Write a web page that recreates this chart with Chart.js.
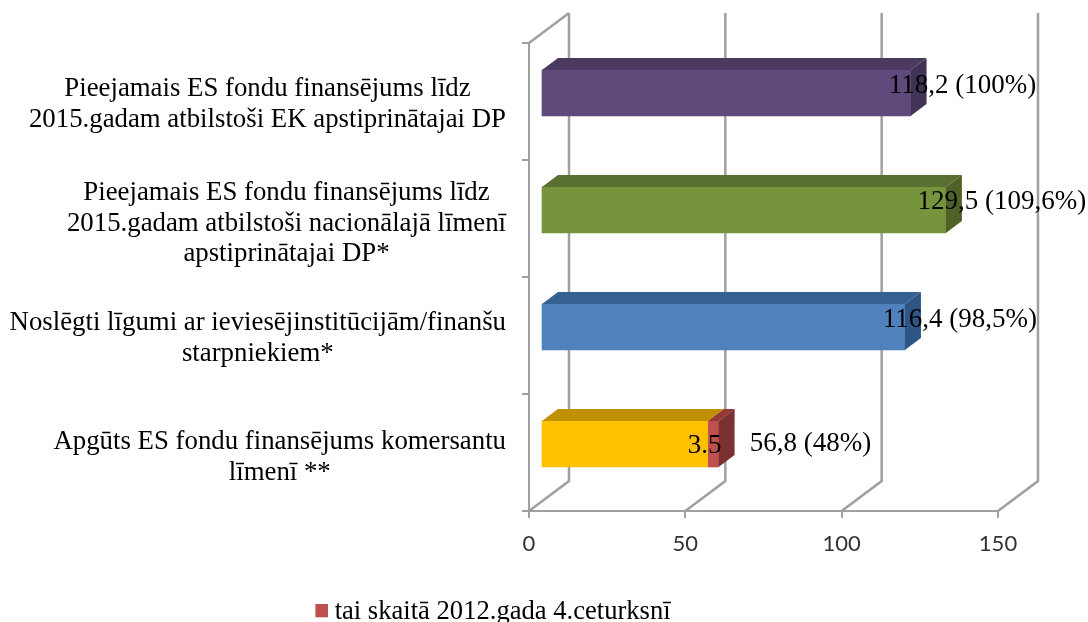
<!DOCTYPE html>
<html lang="lv">
<head>
<meta charset="utf-8">
<title>ES fondu finansējums</title>
<script src="https://cdn.jsdelivr.net/npm/chart.js@4"></script>
<style>
    html, body { margin: 0; padding: 0; background: #fff; overflow: hidden; }
    canvas { display: block; }
</style>
</head>
<body>
<canvas id="chart" width="1088" height="622"></canvas>
<script>
// Chart data, top bar first
const categories = [
    ['Pieejamais ES fondu finansējums līdz', '2015.gadam atbilstoši EK apstiprinātajai DP'],
    ['Pieejamais ES fondu finansējums līdz', '2015.gadam atbilstoši nacionālajā līmenī', 'apstiprinātajai DP*'],
    ['Noslēgti līgumi ar ieviesējinstitūcijām/finanšu', 'starpniekiem*'],
    ['Apgūts ES fondu finansējums komersantu', 'līmenī **']
];
const mainValues = [118.2, 129.5, 116.4, 53.3];
const quarterValues = [null, null, null, 3.5];
const mainLabels = ['118,2 (100%)', '129,5 (109,6%)', '116,4 (98,5%)', '56,8 (48%)'];
const quarterLabels = [null, null, null, '3.5'];
const legendLabel = 'tai skaitā 2012.gada 4.ceturksnī';
const xTicks = [0, 50, 100, 150];

// Face colours per bar
const frontColors = ['#604a7b', '#77933c', '#4f81bd', '#ffc000'];
const topColors = ['#4b3a60', '#5a7030', '#376092', '#bf9000'];
const sideColors = ['#413355', '#4f6228', '#2f5585', '#bf9000'];
const quarterColor = '#c0504d';

const gridColor = '#a0a0a0';
const serif = '"Liberation Serif"';

// Legend swatch: the gap to the text is tighter than Chart.js gives, so the
// square hangs left of a narrow legend box
function legendSwatch() {
    const c = document.createElement('canvas');
    c.width = 20;
    c.height = 16;
    const g = c.getContext('2d');
    g.fillStyle = quarterColor;
    g.fillRect(7, 0, 13, 13);
    return c;
}

// Excel style 3D walls, bar depth, category labels and value labels
const bar3d = {
    id: 'bar3d',
    afterLayout(chart, args, opts) {
        // legend sits left of the page centre
        const legend = chart.legend;
        const shift = opts.legendCentre - (legend.left + legend.right) / 2;
        legend.left += shift;
        legend.right += shift;
        legend.top = opts.legendTop;
    },
    beforeDatasetsDraw(chart, args, opts) {
        const { ctx, chartArea, scales } = chart;
        const wall = opts.wall;
        ctx.save();
        ctx.strokeStyle = gridColor;
        ctx.lineWidth = 2.5;
        ctx.beginPath();
        xTicks.forEach(v => {
            const x = scales.x.getPixelForValue(v);
            ctx.moveTo(x, chartArea.bottom);
            ctx.lineTo(x + wall.x, chartArea.bottom + wall.y);
            ctx.lineTo(x + wall.x, chartArea.top + wall.y);
        });
        const x0 = scales.x.getPixelForValue(0);
        ctx.moveTo(x0, chartArea.top);
        ctx.lineTo(x0 + wall.x, chartArea.top + wall.y);
        ctx.stroke();
        ctx.restore();
    },
    beforeDatasetDraw(chart, args, opts) {
        chart.ctx.save();
        chart.ctx.translate(opts.front.x, opts.front.y);
    },
    afterDatasetDraw(chart, args, opts) {
        const { ctx } = chart;
        const d = opts.depth;
        const isQuarter = args.index === 1;
        chart.getDatasetMeta(args.index).data.forEach((bar, i) => {
            if (chart.data.datasets[args.index].data[i] === null) return;
            const { x, y, base, height } = bar.getProps(['x', 'y', 'base', 'height'], true);
            const t = y - height / 2;
            const b = y + height / 2;
            ctx.fillStyle = isQuarter ? opts.quarterTop : topColors[i];
            ctx.beginPath();
            ctx.moveTo(base, t);
            ctx.lineTo(base + d.x, t + d.y);
            ctx.lineTo(x + d.x, t + d.y);
            ctx.lineTo(x, t);
            ctx.closePath();
            ctx.fill();
            // Chart.js draws the upper stack segment first, a hidden side would cover it
            if (!isQuarter && quarterValues[i] !== null) return;
            ctx.fillStyle = isQuarter ? opts.quarterSide : sideColors[i];
            ctx.beginPath();
            ctx.moveTo(x, t);
            ctx.lineTo(x + d.x, t + d.y);
            ctx.lineTo(x + d.x, b + d.y);
            ctx.lineTo(x, b);
            ctx.closePath();
            ctx.fill();
        });
        ctx.restore();
    },
    afterDatasetsDraw(chart, args, opts) {
        const { ctx, scales } = chart;
        ctx.save();

        // category labels: each block centred on itself, blocks right aligned
        ctx.font = opts.catFont;
        ctx.fillStyle = '#000';
        ctx.textAlign = 'center';
        ctx.textBaseline = 'middle';
        categories.forEach((lines, i) => {
            const widest = Math.max(...lines.map(l => ctx.measureText(l).width));
            const cx = opts.catRight - widest / 2;
            const cy = scales.y.getPixelForValue(i) + opts.catNudge[i];
            lines.forEach((line, k) => {
                ctx.fillText(line, cx, cy + (k - (lines.length - 1) / 2) * opts.catLine);
            });
        });

        // value labels
        ctx.font = opts.valueFont;
        const meta0 = chart.getDatasetMeta(0).data;
        const meta1 = chart.getDatasetMeta(1).data;
        mainLabels.forEach((text, i) => {
            const end = quarterValues[i] === null ? meta0[i].x : meta1[i].x;
            ctx.fillText(text, end + opts.front.x + opts.valueDx[i], meta0[i].y + opts.front.y + opts.valueDy[i]);
        });
        quarterLabels.forEach((text, i) => {
            if (text === null) return;
            ctx.fillText(text, meta1[i].x + opts.front.x - 14, meta1[i].y + opts.front.y + 2);
        });
        ctx.restore();
    }
};

new Chart(document.getElementById('chart'), {
    type: 'bar',
    data: {
        labels: categories,
        datasets: [
            { label: 'Kopā', data: mainValues, backgroundColor: frontColors, barThickness: 46, clip: false },
            { label: legendLabel, data: quarterValues, backgroundColor: quarterColor, barThickness: 46, clip: false }
        ]
    },
    options: {
        indexAxis: 'y',
        responsive: false,
        animation: false,
        layout: { padding: { top: 43, right: 90, left: 0, bottom: 0 } },
        scales: {
            x: {
                stacked: true,
                min: 0,
                max: 150,
                afterBuildTicks(scale) { scale.ticks = xTicks.map(v => ({ value: v })); },
                afterFit(scale) { scale.height = 111 - scale.chart.legend.height; },
                grid: { drawOnChartArea: false, color: gridColor, lineWidth: 2, tickLength: 7 },
                border: { color: gridColor, width: 2 },
                ticks: {
                    color: '#333333',
                    font: { family: 'Lato', size: 22 },
                    padding: 13,
                    maxRotation: 0
                }
            },
            y: {
                stacked: true,
                afterFit(scale) { scale.width = 529; },
                grid: { drawOnChartArea: false, color: gridColor, lineWidth: 2, tickLength: 7, offset: true },
                border: { color: gridColor, width: 2 },
                ticks: { display: false }
            }
        },
        plugins: {
            tooltip: { enabled: false },
            legend: {
                position: 'bottom',
                labels: {
                    filter: item => item.datasetIndex === 1,
                    usePointStyle: true,
                    pointStyle: legendSwatch(),
                    pointStyleWidth: 6,
                    boxHeight: 13,
                    color: '#000',
                    padding: 0,
                    font: { family: serif, size: 26.6 }
                }
            },
            bar3d: {
                wall: { x: 40, y: -30 },
                front: { x: 12, y: -8.5 },
                depth: { x: 16, y: -12 },
                quarterTop: '#953735',
                quarterSide: '#7a3230',
                legendCentre: 493,
                legendTop: 599,
                catFont: '26.8px ' + serif,
                catRight: 506,
                catLine: 30.5,
                catNudge: [3, 5, 3, 5],
                valueFont: '27px ' + serif,
                valueDx: [52, 56, 55, 92],
                valueDy: [-7, -8, -7, 0]
            }
        }
    },
    plugins: [bar3d]
});
</script>
</body>
</html>
